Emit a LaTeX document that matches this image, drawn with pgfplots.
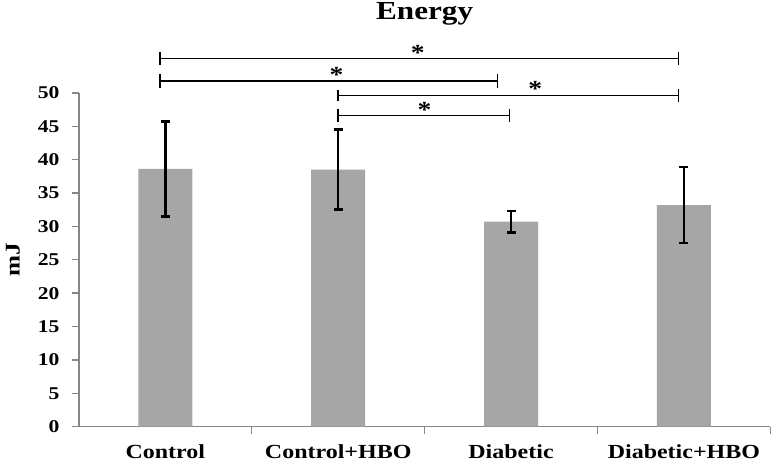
\documentclass[border=0pt]{standalone}
\usepackage{fontspec}
\setmainfont[FakeStretch=1.2]{Liberation Serif}
\usepackage{pgfplots}
\pgfplotsset{compat=1.18}
\definecolor{barg}{HTML}{A6A6A6}
\definecolor{axg}{HTML}{868686}
\begin{document}
\begin{tikzpicture}
\begin{axis}[
  scale only axis, width=692bp, height=334bp,
  xmin=-0.5, xmax=3.5, ymin=0, ymax=50,
  clip=false,
  axis lines=left,
  axis line style={-, axg, line width=1.3bp},
  xtick={0.5,1.5,2.5,3.5}, xticklabels={},
  extra x ticks={0,1,2,3},
  extra x tick labels={Control, Control+HBO, Diabetic, Diabetic+HBO},
  extra x tick style={major tick length=0pt},
  ytick={0,5,...,50},
  tick align=outside, tick pos=left,
  major tick length=7bp,
  every tick/.style={axg, line width=1.3bp},
  /pgf/number format/assume math mode=true,
  ticklabel style={font=\bfseries\fontsize{18bp}{18bp}\selectfont},
  yticklabel style={xshift=-9bp},
  xticklabel style={font=\bfseries\fontsize{20bp}{20bp}\selectfont, anchor=base, yshift=-32bp},
  title={Energy},
  title style={font=\bfseries\fontsize{26bp}{26bp}\selectfont, at={(0.5,1)}, anchor=base, yshift=68bp},
  ylabel={mJ},
  ylabel style={font=\bfseries\fontsize{21bp}{21bp}\selectfont, at={(axis description cs:-0.0954,0.5)}, anchor=center},
]
\addplot[ybar, bar width=54bp, fill=barg, draw=none,
  error bars/.cd, y dir=both, y explicit,
  error bar style={black, line width=2.6bp},
  error mark options={rotate=90, mark size=4.5bp, line width=2.6bp, black}]
  coordinates {
  (0,38.6) +- (0,7.1)
  (1,38.5) +- (0,6.0)
  (2,30.7) +- (0,1.6)
  (3,33.2) +- (0,5.7)
};
% significance brackets
\addplot[black, line width=1.4bp, unbounded coords=jump, forget plot] coordinates {
  (-0.03,56.2) (-0.03,54.2) (-0.03,nan)
  (-0.03,55.2) (2.97,55.2) (2.97,nan)
  (2.97,56.2) (2.97,54.2)
};
\addplot[black, line width=1.4bp, unbounded coords=jump, forget plot] coordinates {
  (-0.03,52.8) (-0.03,50.8) (-0.03,nan)
  (-0.03,51.8) (1.92,51.8) (1.92,nan)
  (1.92,52.8) (1.92,50.8)
};
\addplot[black, line width=1.4bp, unbounded coords=jump, forget plot] coordinates {
  (1.0,50.5) (1.0,48.8) (1.0,nan)
  (1.0,49.6) (2.97,49.6) (2.97,nan)
  (2.97,50.6) (2.97,48.6)
};
\addplot[black, line width=1.4bp, unbounded coords=jump, forget plot] coordinates {
  (1.0,47.6) (1.0,45.6) (1.0,nan)
  (1.0,46.6) (1.99,46.6) (1.99,nan)
  (1.99,47.6) (1.99,45.6)
};
\node[font=\bfseries\fontsize{23bp}{23bp}\selectfont, anchor=base] at (axis cs:1.46,54.9) {*};
\node[font=\bfseries\fontsize{23bp}{23bp}\selectfont, anchor=base] at (axis cs:0.99,51.5) {*};
\node[font=\bfseries\fontsize{23bp}{23bp}\selectfont, anchor=base] at (axis cs:2.14,49.5) {*};
\node[font=\bfseries\fontsize{23bp}{23bp}\selectfont, anchor=base] at (axis cs:1.50,46.3) {*};
\coordinate (ll) at (rel axis cs:0,0);
\coordinate (ur) at (rel axis cs:1,1);
\end{axis}
\pgfresetboundingbox
\path[use as bounding box] ([shift={(-79bp,-36bp)}]ll) rectangle ([shift={(0.7bp,93bp)}]ur);
\end{tikzpicture}
\end{document}
